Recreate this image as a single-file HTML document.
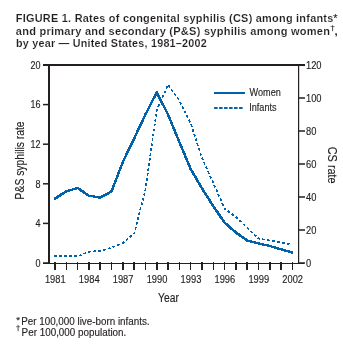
<!DOCTYPE html>
<html><head><meta charset="utf-8"><style>
html,body{margin:0;padding:0;background:#fff;width:343px;height:345px;overflow:hidden}
svg{display:block;will-change:transform}
text:not([font-weight]){stroke:#231f20;stroke-width:0.15px}
</style></head><body>
<svg width="343" height="345" viewBox="0 0 343 345">
<path d="M43,65 H305" stroke="#231f20" stroke-width="2" fill="none"/>
<path d="M49,64 V263.5" stroke="#231f20" stroke-width="2" fill="none"/>
<path d="M298.6,65 V263.5" stroke="#231f20" stroke-width="1.2" fill="none"/>
<path d="M43,263.5 H304" stroke="#231f20" stroke-width="1.1" fill="none"/>
<path d="M43,65.00 H49" stroke="#231f20" stroke-width="1.5"/>
<path d="M43,104.60 H49" stroke="#231f20" stroke-width="1.5"/>
<path d="M43,144.20 H49" stroke="#231f20" stroke-width="1.5"/>
<path d="M43,183.80 H49" stroke="#231f20" stroke-width="1.5"/>
<path d="M43,223.40 H49" stroke="#231f20" stroke-width="1.5"/>
<path d="M43,263.00 H49" stroke="#231f20" stroke-width="1.5"/>
<path d="M298,65.00 H305" stroke="#231f20" stroke-width="1.5"/>
<path d="M298,98.00 H305" stroke="#231f20" stroke-width="1.5"/>
<path d="M298,131.00 H305" stroke="#231f20" stroke-width="1.5"/>
<path d="M298,164.00 H305" stroke="#231f20" stroke-width="1.5"/>
<path d="M298,197.00 H305" stroke="#231f20" stroke-width="1.5"/>
<path d="M298,230.00 H305" stroke="#231f20" stroke-width="1.5"/>
<path d="M298,263.00 H305" stroke="#231f20" stroke-width="1.5"/>
<path d="M55.00,262 V270" stroke="#231f20" stroke-width="1.5" shape-rendering="crispEdges"/>
<path d="M66.31,262 V270" stroke="#231f20" stroke-width="1.5" shape-rendering="crispEdges"/>
<path d="M77.61,262 V270" stroke="#231f20" stroke-width="1.5" shape-rendering="crispEdges"/>
<path d="M88.91,262 V270" stroke="#231f20" stroke-width="1.5" shape-rendering="crispEdges"/>
<path d="M100.22,262 V270" stroke="#231f20" stroke-width="1.5" shape-rendering="crispEdges"/>
<path d="M111.53,262 V270" stroke="#231f20" stroke-width="1.5" shape-rendering="crispEdges"/>
<path d="M122.83,262 V270" stroke="#231f20" stroke-width="1.5" shape-rendering="crispEdges"/>
<path d="M134.13,262 V270" stroke="#231f20" stroke-width="1.5" shape-rendering="crispEdges"/>
<path d="M145.44,262 V270" stroke="#231f20" stroke-width="1.5" shape-rendering="crispEdges"/>
<path d="M156.75,262 V270" stroke="#231f20" stroke-width="1.5" shape-rendering="crispEdges"/>
<path d="M168.05,262 V270" stroke="#231f20" stroke-width="1.5" shape-rendering="crispEdges"/>
<path d="M179.35,262 V270" stroke="#231f20" stroke-width="1.5" shape-rendering="crispEdges"/>
<path d="M190.66,262 V270" stroke="#231f20" stroke-width="1.5" shape-rendering="crispEdges"/>
<path d="M201.97,262 V270" stroke="#231f20" stroke-width="1.5" shape-rendering="crispEdges"/>
<path d="M213.27,262 V270" stroke="#231f20" stroke-width="1.5" shape-rendering="crispEdges"/>
<path d="M224.57,262 V270" stroke="#231f20" stroke-width="1.5" shape-rendering="crispEdges"/>
<path d="M235.88,262 V270" stroke="#231f20" stroke-width="1.5" shape-rendering="crispEdges"/>
<path d="M247.19,262 V270" stroke="#231f20" stroke-width="1.5" shape-rendering="crispEdges"/>
<path d="M258.49,262 V270" stroke="#231f20" stroke-width="1.5" shape-rendering="crispEdges"/>
<path d="M269.79,262 V270" stroke="#231f20" stroke-width="1.5" shape-rendering="crispEdges"/>
<path d="M281.10,262 V270" stroke="#231f20" stroke-width="1.5" shape-rendering="crispEdges"/>
<path d="M292.40,262 V270" stroke="#231f20" stroke-width="1.5" shape-rendering="crispEdges"/>
<defs><polyline id="wl" points="55.00,198.60 66.31,191.30 77.61,188.00 88.91,195.70 100.22,197.60 111.53,191.40 122.83,162.00 134.13,138.50 145.44,114.50 156.75,92.30 168.05,114.60 179.35,142.00 190.66,169.00 201.97,188.40 213.27,206.10 224.57,222.60 235.88,232.50 247.19,240.50 258.49,243.50 269.79,246.00 281.10,249.30 292.40,252.50" stroke="#0062aa" stroke-width="1.2" fill="none" stroke-linecap="square" stroke-linejoin="round" shape-rendering="crispEdges"/><polyline id="il" points="54.1,256.0 55.00,256.00 66.31,256.30 77.61,256.30 88.91,251.70 100.22,250.90 111.53,247.60 122.83,243.20 134.13,233.50 145.44,190.00 156.75,110.00 168.05,84.80 179.35,100.50 190.66,123.20 201.97,158.00 213.27,183.00 224.57,208.50 235.88,217.00 247.19,227.60 258.49,238.60 269.79,240.50 281.10,242.40 292.40,244.70" stroke="#0062aa" stroke-width="1.7" fill="none" stroke-dasharray="2.8 2.2" stroke-dashoffset="0" stroke-linejoin="round" shape-rendering="crispEdges"/></defs>
<use href="#il" x="0" y="0"/>
<use href="#wl" x="-0.5" y="-0.5"/>
<use href="#wl" x="0.5" y="-0.5"/>
<use href="#wl" x="-0.5" y="0.5"/>
<use href="#wl" x="0.5" y="0.5"/>
<path d="M214,93 H245" stroke="#0062aa" stroke-width="2"/>
<path d="M214.1,107.9 H244" stroke="#0062aa" stroke-width="2" stroke-dasharray="3.5 1.5"/>
<text transform="translate(40.5,68.80) scale(0.85,1)" font-family="Liberation Sans" font-size="10.6" text-anchor="end" fill="#231f20">20</text>
<text transform="translate(40.5,108.40) scale(0.85,1)" font-family="Liberation Sans" font-size="10.6" text-anchor="end" fill="#231f20">16</text>
<text transform="translate(40.5,148.00) scale(0.85,1)" font-family="Liberation Sans" font-size="10.6" text-anchor="end" fill="#231f20">12</text>
<text transform="translate(40.5,187.60) scale(0.85,1)" font-family="Liberation Sans" font-size="10.6" text-anchor="end" fill="#231f20">8</text>
<text transform="translate(40.5,227.20) scale(0.85,1)" font-family="Liberation Sans" font-size="10.6" text-anchor="end" fill="#231f20">4</text>
<text transform="translate(40.5,266.80) scale(0.85,1)" font-family="Liberation Sans" font-size="10.6" text-anchor="end" fill="#231f20">0</text>
<text transform="translate(306.0,68.80) scale(0.88,1)" font-family="Liberation Sans" font-size="10.6" fill="#231f20">120</text>
<text transform="translate(306.0,101.80) scale(0.88,1)" font-family="Liberation Sans" font-size="10.6" fill="#231f20">100</text>
<text transform="translate(306.0,134.80) scale(0.88,1)" font-family="Liberation Sans" font-size="10.6" fill="#231f20">80</text>
<text transform="translate(306.0,167.80) scale(0.88,1)" font-family="Liberation Sans" font-size="10.6" fill="#231f20">60</text>
<text transform="translate(306.0,200.80) scale(0.88,1)" font-family="Liberation Sans" font-size="10.6" fill="#231f20">40</text>
<text transform="translate(306.0,233.80) scale(0.88,1)" font-family="Liberation Sans" font-size="10.6" fill="#231f20">20</text>
<text transform="translate(306.0,266.80) scale(0.88,1)" font-family="Liberation Sans" font-size="10.6" fill="#231f20">0</text>
<text transform="translate(55.30,283) scale(0.88,1)" font-family="Liberation Sans" font-size="10.6" text-anchor="middle" fill="#231f20">1981</text>
<text transform="translate(89.21,283) scale(0.88,1)" font-family="Liberation Sans" font-size="10.6" text-anchor="middle" fill="#231f20">1984</text>
<text transform="translate(123.13,283) scale(0.88,1)" font-family="Liberation Sans" font-size="10.6" text-anchor="middle" fill="#231f20">1987</text>
<text transform="translate(157.05,283) scale(0.88,1)" font-family="Liberation Sans" font-size="10.6" text-anchor="middle" fill="#231f20">1990</text>
<text transform="translate(190.96,283) scale(0.88,1)" font-family="Liberation Sans" font-size="10.6" text-anchor="middle" fill="#231f20">1993</text>
<text transform="translate(224.88,283) scale(0.88,1)" font-family="Liberation Sans" font-size="10.6" text-anchor="middle" fill="#231f20">1996</text>
<text transform="translate(258.79,283) scale(0.88,1)" font-family="Liberation Sans" font-size="10.6" text-anchor="middle" fill="#231f20">1999</text>
<text transform="translate(292.70,283) scale(0.88,1)" font-family="Liberation Sans" font-size="10.6" text-anchor="middle" fill="#231f20">2002</text>
<text transform="translate(168.5,302) scale(0.824,1)" font-family="Liberation Sans" font-size="12.5" text-anchor="middle" fill="#231f20">Year</text>
<text transform="translate(249.6,96) scale(0.86,1)" font-family="Liberation Sans" font-size="10.6" text-anchor="start" fill="#231f20">Women</text>
<text transform="translate(249.2,110.6) scale(0.86,1)" font-family="Liberation Sans" font-size="10.6" text-anchor="start" fill="#231f20">Infants</text>
<text transform="translate(24.0,160.4) rotate(-90) scale(0.826,1)" font-family="Liberation Sans" font-size="12.5" text-anchor="middle" fill="#231f20">P&amp;S syphilis rate</text>
<text transform="translate(327.5,165.2) rotate(90) scale(0.892,1)" font-family="Liberation Sans" font-size="12.2" text-anchor="middle" fill="#231f20">CS rate</text>
<text transform="translate(21.2,325.2) scale(0.955,1)" font-family="Liberation Sans" font-size="10.3" fill="#231f20">Per 100,000 live-born infants.</text>
<text transform="translate(21.6,335.7) scale(0.958,1)" font-family="Liberation Sans" font-size="10.3" fill="#231f20">Per 100,000 population.</text>
<text transform="translate(16.2,322.5) scale(1.0,1)" font-family="Liberation Sans" font-size="9.5" fill="#231f20">*</text>
<path d="M18.1,324.9 V331.2" stroke="#231f20" stroke-width="0.8" fill="none"/><path d="M16,326.7 H20.2" stroke="#333" stroke-width="0.6" fill="none"/>
<text transform="translate(15.8,22) scale(0.9668,1)" font-family="Liberation Sans" font-weight="bold" font-size="11.3" fill="#231f20" stroke="#fff" stroke-width="0.12" letter-spacing="0.25">FIGURE 1. Rates of congenital syphilis (CS) among infants</text>
<text transform="translate(15.8,35) scale(0.9785,1)" font-family="Liberation Sans" font-weight="bold" font-size="11.3" fill="#231f20" stroke="#fff" stroke-width="0.12" letter-spacing="0.25">and primary and secondary (P&amp;S) syphilis among women</text>
<text x="334.6" y="35" font-family="Liberation Sans" font-weight="bold" font-size="11.3" fill="#231f20">,</text>
<text x="333.2" y="22.2" font-family="Liberation Sans" font-size="10.8" fill="#231f20">*</text>
<path d="M332.6,25.2 V31.2" stroke="#231f20" stroke-width="0.8" fill="none"/><path d="M330.4,26.6 H334.6" stroke="#333" stroke-width="0.6" fill="none"/>
<text transform="translate(16,46.5) scale(0.9529,1)" font-family="Liberation Sans" font-weight="bold" font-size="11.3" fill="#231f20" stroke="#fff" stroke-width="0.12" letter-spacing="0.25">by year — United States, 1981–2002</text>
</svg>
</body></html>
